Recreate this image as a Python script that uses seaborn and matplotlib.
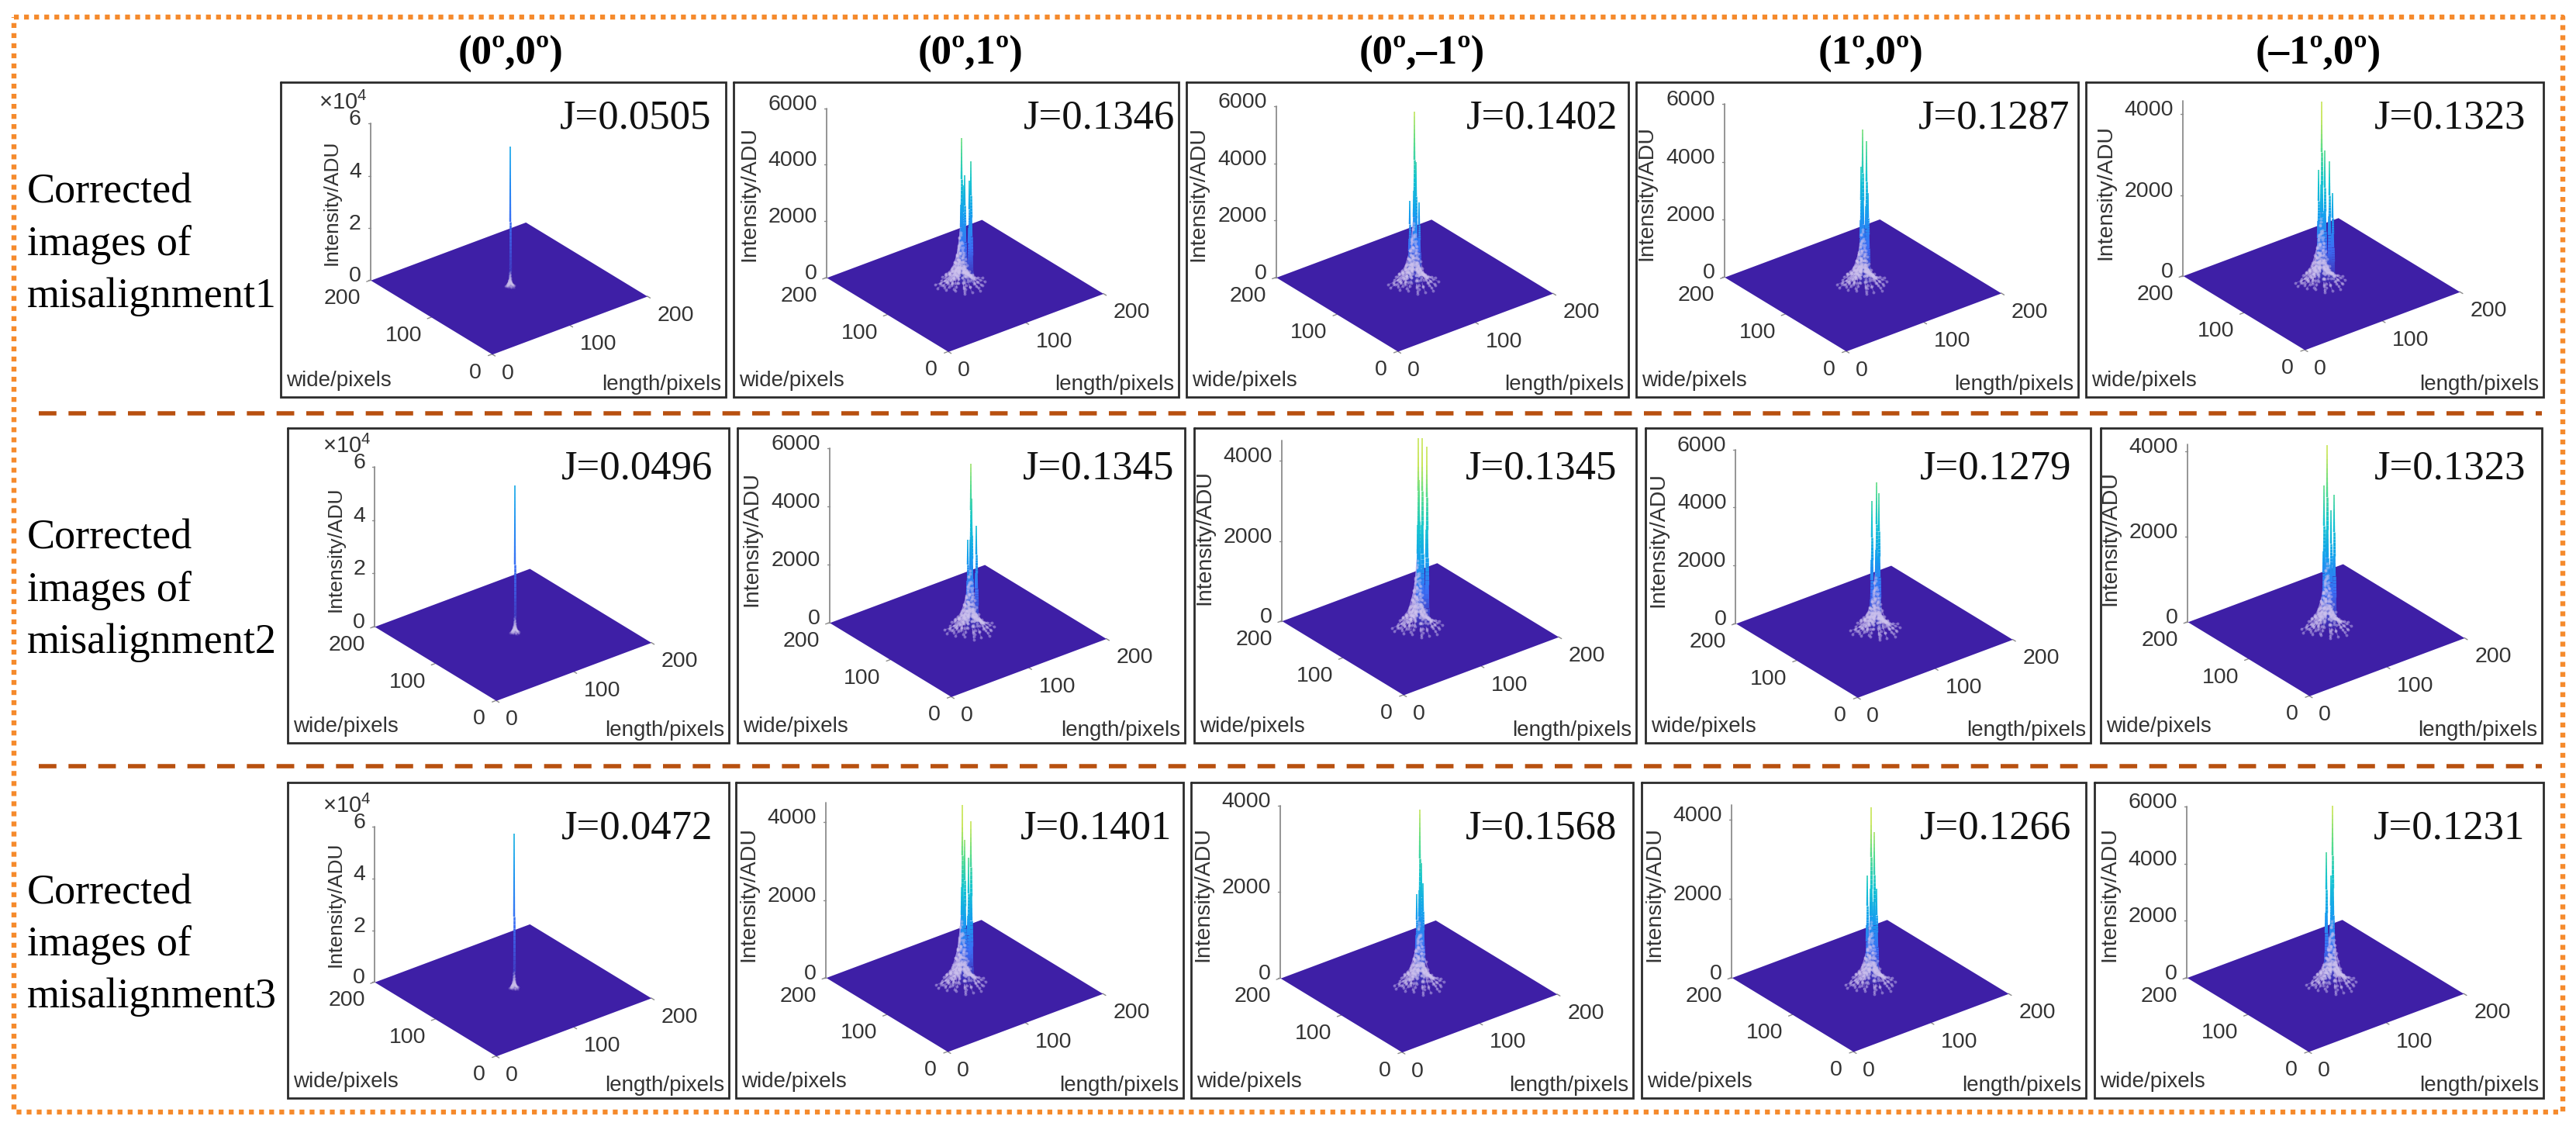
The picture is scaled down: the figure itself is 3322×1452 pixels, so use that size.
import numpy as np
import matplotlib
matplotlib.use("Agg")
import matplotlib.pyplot as plt
import seaborn as sns
from mpl_toolkits.mplot3d import proj3d
from mpl_toolkits.mplot3d.art3d import Line3DCollection

sns.set_theme(style="white")
plt.rcParams['font.family'] = ['Liberation Sans', 'DejaVu Sans']
plt.rcParams['mathtext.fontset'] = 'custom'
plt.rcParams['mathtext.rm'] = 'Liberation Sans'
plt.rcParams['mathtext.it'] = 'Liberation Sans'

# ---- values
titles = ["(0º,0º)", "(0º,1º)", "(0º,–1º)", "(1º,0º)", "(–1º,0º)"]
row_labels = [["Corrected", "images of", "misalignment1"],
              ["Corrected", "images of", "misalignment2"],
              ["Corrected", "images of", "misalignment3"]]
j_values = [["J=0.0505", "J=0.1346", "J=0.1402", "J=0.1287", "J=0.1323"],
            ["J=0.0496", "J=0.1345", "J=0.1345", "J=0.1279", "J=0.1323"],
            ["J=0.0472", "J=0.1401", "J=0.1568", "J=0.1266", "J=0.1231"]]

# top labelled tick of the intensity axis and where the axis line stops
z_top_tick = [[60000, 6000, 6000, 6000, 4000],
              [60000, 6000, 4000, 6000, 4000],
              [60000, 4000, 4000, 4000, 6000]]
z_limit = [[60000, 6000, 6000, 6000, 4330],
           [60000, 6000, 4520, 6000, 4150],
           [60000, 4500, 4000, 4390, 6000]]

floor_ticks = [0, 100, 200]

# peaks of each surface: length, wide, intensity
peak_length = [[[104], [100, 108, 103, 102, 106.5], [103, 99, 107, 104], [103, 106, 101.5, 107], [103, 106, 109.6, 101, 112]],
               [[104.6], [105, 109.6, 103, 106], [101.5, 104.6, 108.4, 102], [104.6, 101.5, 106.5], [104, 109.6, 101.5, 107]],
               [[104], [101, 108.4, 103, 106.5], [104, 105, 101.5, 106.5], [104, 106.5, 101, 108.4], [108.7, 104, 107.5]]]
peak_wide = [[[103], [106, 100, 104, 105, 101], [104, 107, 101, 103], [103.5, 101.5, 105, 100.6], [103.5, 101.5, 98.7, 105.4, 97]],
             [[102.5], [102, 98.7, 103.5, 101.5], [105, 102.5, 99.7, 104.4], [102.5, 105, 101], [103, 98.7, 105, 100.6]],
             [[103], [105, 99.7, 103.5, 101], [103, 102, 105, 101], [103, 101, 105.4, 99.7], [99.4, 103, 100.3]]]
peak_height = [[[53500], [5155, 4330, 3820, 3470, 3650], [6020, 2890, 2840, 4250], [5310, 4900, 4010, 3120], [4460, 3250, 2980, 2770, 2190]],
               [[55100], [5660, 3530, 3040, 4460], [4720, 4720, 4500, 3670], [5060, 4420, 4690], [4270, 3110, 3330, 2750]],
               [[59700], [4600, 4180, 3700, 3240], [4050, 2800, 2080, 2340], [4470, 3840, 2740, 2400], [6245, 4610, 3790]]]

# foot of the faint strands round a peak, offsets from the peak, and their height share
strand_dl = [-30, -25, -21, -18, -15, -12, -10, -8, -6, -4, -2, 0, 2, 4, 6, 8, 10, 12, 14, 17, 20, 24, 28,
             -27, -16, -5, 5, 15, 25, -12, -3, 9, 19, -22, -7, 11, 1, -14, 13, -1, 7, -9, 3, 22, -19, 16]
strand_dw = [8, -3, 14, -11, 20, 3, -19, 26, 9, -26, 15, 30, -14, 22, -29, 5, 18, -10, 11, -17, 2, 9, -5,
             16, -6, -15, 12, 24, -14, 12, 2, -22, 13, 4, 19, 26, -8, -24, -1, 29, 16, 6, 27, 7, 9, -20]
strand_share = [.1, .13, .16, .14, .2, .3, .18, .16, .42, .2, .5, .15, .4, .24, .18, .45, .22, .34, .26, .15, .18, .11, .08,
                .09, .25, .32, .52, .18, .11, .38, .56, .2, .15, .14, .36, .16, .44, .2, .28, .24, .38, .5, .3, .12, .18, .15]

# ---- layout, in pixels of the 3322x1452 picture
W, H = 3322, 1452
frame_left = [[362, 946, 1530, 2110, 2690], [371, 951, 1540, 2122, 2709], [371, 949, 1536, 2117, 2701]]
frame_right = [[936, 1520, 2100, 2680, 3280], [940, 1528, 2110, 2696, 3278], [940, 1526, 2106, 2690, 3280]]
frame_top = [106, 552, 1009]
frame_bottom = [512, 958, 1416]
j_right = [[917, 1515, 2086, 2669, 3257], [919, 1514, 2085, 2671, 3257], [919, 1511, 2085, 2671, 3256]]
j_base = [166, 618, 1082]
corner_x = [[634.6, 1222.7, 1802.5, 2380.6, 2972], [639.7, 1226.5, 1809.8, 2395.3, 2978], [639.7, 1222, 1807.9, 2390, 2977]]
corner_y = [[456.7, 453.3, 453, 452.7, 451], [903.3, 898.3, 896, 899.3, 897.3], [1361.7, 1356, 1356.7, 1356, 1356]]
top_tick_px = [[201.7, 218, 220, 223, 208], [205.7, 225, 206, 224, 220], [200, 200, 222, 203, 220]]
title_x = [659, 1252, 1834, 2413, 2990]
label_y = [262, 708, 1165]

FLOOR_WIDTH_PX = 200
ELEV, AZIM = 28.5, -128.1
BOX_SIDE = 254
AX_PX = 900

floor_color = "#3e1fa6"
tick_color = "#333333"
surface_cmap = sns.blend_palette(["#3f2ab0", "#3b6ff5", "#159fee", "#15c4d0", "#55dc8c", "#c8e65a"], as_cmap=True)
strand_cmap = sns.blend_palette(["#7a62c8", "#a89ae8", "#8f9cf4", "#4f86f6"], as_cmap=True)

fig = plt.figure(figsize=(W / 100, H / 100), dpi=100)
bg = fig.add_axes([0, 0, 1, 1])
bg.set_xlim(0, W)
bg.set_ylim(H, 0)
bg.axis("off")


def to_px(ax, x, y, z):
    xs, ys, _ = proj3d.proj_transform(x, y, z, ax.get_proj())
    px = ax.transData.transform((xs, ys))
    return px[0], H - px[1]


def ax_rect(cx, cy):
    return [(cx - AX_PX / 2) / W, 1 - (cy + AX_PX / 2) / H, AX_PX / W, AX_PX / H]


def draw_peak(ax, l, w, height, limit, base_lw):
    fracs = np.linspace(0, 1, 40)
    pts = np.array([[l, w, f * height] for f in fracs])
    segs = np.stack([pts[:-1], pts[1:]], axis=1)
    cols = surface_cmap(np.clip(fracs[:-1] * height / limit, 0, 1))
    widths = base_lw * (1 - fracs[:-1]) ** 1.5 + 1.2
    ax.add_collection3d(Line3DCollection(segs, colors=cols, linewidths=widths, zorder=4))


def draw_strands(ax, l, w, height, scale, z_scale, line_w, dot_alpha):
    segs, cols, dots = [], [], []
    for dl, dw, share in zip(strand_dl, strand_dw, strand_share):
        ts = np.linspace(0, 1, 9)
        squeeze = (1 - ts) ** 1.7
        xs = l + dl * scale * squeeze
        ys = w + dw * scale * squeeze
        zs = ts * share * z_scale * height
        pts = np.column_stack([xs, ys, zs])
        segs.append(np.stack([pts[:-1], pts[1:]], axis=1))
        cols.append(strand_cmap(ts[:-1]))
        dots.append(pts[:6])
    lines = Line3DCollection(np.concatenate(segs), colors=np.concatenate(cols), linewidths=line_w, alpha=.7, zorder=3)
    ax.add_collection3d(lines)
    dots = np.concatenate(dots)
    # pale speckle along the lower part of the skirt
    ax.scatter(dots[:, 0], dots[:, 1], dots[:, 2], s=9 * max(scale, .3), color="#cfc4ee", alpha=dot_alpha,
               linewidths=0, depthshade=False, zorder=5)


for r in range(3):
    for c in range(5):
        left, right = frame_left[r][c], frame_right[r][c]
        top, bottom = frame_top[r], frame_bottom[r]
        bg.plot([left, right, right, left, left], [top, top, bottom, bottom, top], color="#2b2b2b", lw=2,
                solid_joinstyle="miter")

        tick_top = z_top_tick[r][c]
        zmax = z_limit[r][c]
        z_box = top_tick_px[r][c] / np.cos(np.radians(ELEV)) * zmax / tick_top

        ax = fig.add_axes(ax_rect(corner_x[r][c], corner_y[r][c]), projection="3d", computed_zorder=False)
        ax.patch.set_alpha(0)
        ax.set_proj_type("ortho")
        ax.view_init(elev=ELEV, azim=AZIM)
        ax.set_xlim(0, 200)
        ax.set_ylim(0, 200)
        ax.set_zlim(0, zmax)
        ax.set_box_aspect((BOX_SIDE, BOX_SIDE, z_box), zoom=1)
        # scale so that the floor has the width it has in the picture
        width = to_px(ax, 200, 0, 0)[0] - to_px(ax, 0, 0, 0)[0]
        ax.set_box_aspect((BOX_SIDE, BOX_SIDE, z_box), zoom=FLOOR_WIDTH_PX / width)
        bx, by = to_px(ax, 0, 0, 0)
        ax.set_position(ax_rect(corner_x[r][c] * 2 - bx, corner_y[r][c] * 2 - by))
        ax.set_axis_off()

        gx, gy = np.meshgrid([0, 200], [0, 200])
        ax.plot_surface(gx, gy, np.zeros_like(gx), color=floor_color, shade=False, linewidth=0,
                        antialiased=True, zorder=1)

        first_col = c == 0
        limit = 120000 if first_col else tick_top
        main = max(peak_height[r][c])
        main_i = peak_height[r][c].index(main)
        for l, w, h in zip(peak_length[r][c], peak_wide[r][c], peak_height[r][c]):
            draw_peak(ax, l, w, h, limit, 1.5 if first_col else 4)
        if first_col:
            draw_strands(ax, peak_length[r][c][main_i], peak_wide[r][c][main_i], main, .17, .3, .4, .18)
        else:
            draw_strands(ax, peak_length[r][c][main_i], peak_wide[r][c][main_i], main, .85, 1.0, .9, .45)

        # intensity axis and its labels
        ax.plot([0, 0], [200, 200], [0, zmax], color="#8c8c8c", lw=1.3, zorder=0)
        ax_x, ax_y = to_px(ax, 0, 200, 0)
        z_step = tick_top / 3 if tick_top % 3000 == 0 else tick_top / 2
        z_ticks = np.arange(0, tick_top + 1, z_step)
        for z in z_ticks:
            tx, ty = to_px(ax, 0, 200, z)
            bg.plot([tx - 3, tx], [ty, ty], color="#8c8c8c", lw=1)
            txt = f"{z / 10000:.0f}" if first_col else f"{z:.0f}"
            bg.text(tx - 12, ty - 5, txt, ha="right", va="center", fontsize=20.5, color=tick_color)
        if first_col:
            tx, ty = to_px(ax, 0, 200, tick_top)
            bg.text(tx - 4, ty - 18, r"$\times10^{4}$", ha="right", va="baseline", fontsize=21, color=tick_color)
        bg.text(ax_x - (50 if first_col else 100), ax_y - (100 if first_col else 108), "Intensity/ADU",
                rotation=90, ha="center", va="center", fontsize=19 if first_col else 20.5, color=tick_color)

        # floor ticks
        for v in floor_ticks:
            ax.plot([v, v], [0, -5], [0, 0], color="#8c8c8c", lw=1, zorder=0)
            ax.plot([0, -5], [v, v], [0, 0], color="#8c8c8c", lw=1, zorder=0)
            tx, ty = to_px(ax, v, 0, 0)
            bg.text(tx + (20 if v == 0 else 37), ty + 25, str(v), ha="center", va="center", fontsize=20.5, color=tick_color)
            tx, ty = to_px(ax, 0, v, 0)
            bg.text(tx - (22 if v == 0 else 36), ty + 24, str(v), ha="center", va="center", fontsize=20.5, color=tick_color)

        bg.text(left + 7, bottom - 14, "wide/pixels", ha="left", va="baseline", fontsize=20, color=tick_color)
        bg.text(right - 6, bottom - 9, "length/pixels", ha="right", va="baseline", fontsize=20, color=tick_color)
        bg.text(j_right[r][c], j_base[r], j_values[r][c], ha="right", va="baseline", fontsize=38,
                family=["Liberation Serif"], color="#111111")

for x, t in zip(title_x, titles):
    bg.text(x, 83, t, ha="center", va="baseline", fontsize=38, fontweight="bold",
            family=["Liberation Serif"], color="black")

for r, lines in enumerate(row_labels):
    for i, line in enumerate(lines):
        bg.text(35, label_y[r] + i * 67, line, ha="left", va="baseline", fontsize=39,
                family=["Liberation Serif"], color="black")

for y in [533, 988]:
    bg.plot([50, 3278], [y, y], color="#b8500f", lw=4, linestyle=(0, (4.1, 2.8)), dash_capstyle="butt")

bg.plot([18, 3305, 3305, 18, 18], [22, 22, 1434, 1434, 22], color="#f58a2c", lw=4.6,
        linestyle=(0, (.98, 1.06)), dash_capstyle="butt")

fig.savefig("out.png", dpi=100)
